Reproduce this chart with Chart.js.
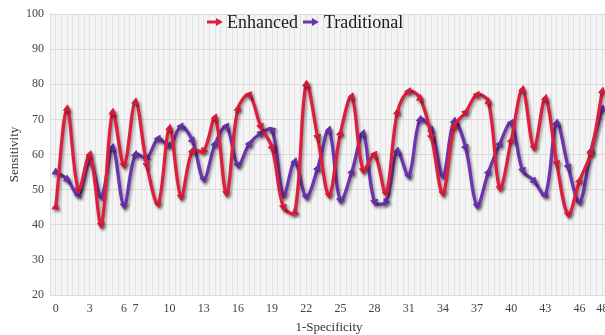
<!DOCTYPE html>
<html><head><meta charset="utf-8">
<script src="https://cdn.jsdelivr.net/npm/chart.js@4/dist/chart.umd.min.js"></script>
<style>
html,body{margin:0;padding:0;overflow:hidden;background:#fff;width:605px;height:335px}
#wrap{position:relative;width:615px;height:335px}
</style>
</head><body>
<div id="wrap"><canvas id="c" width="615" height="335"></canvas></div>
<script>
const xValues = [0,1,2,3,4,5,6,7,8,9,10,11,12,13,14,15,16,17,18,19,20,21,22,23,24,25,26,27,28,29,30,31,32,33,34,35,36,37,38,39,40,41,42,43,44,45,46,47,48];
const enhanced = [45,73,50,60,40,72,57,75,57,46,67.5,48,61,61,70.5,49,73,77,68,62,45,43.5,80,65,48.5,66,76.5,55.5,60,49,72,78,76,65,49,68,72,77,75,50.5,64,78.5,62,76,57.5,43,52.5,60.5,78];
const traditional = [55,53,48.5,58,48,62,45.5,60,59,64.5,62.5,68,64,53,63,68,57,63,66,67,48.5,58,48,56,67,47,55,66,46.5,46.5,61,54,70,67,54,69.5,62,45.5,55,63,69,55.5,52.5,48.5,69,56.5,46.5,61,73];
const xTickLabels = [0,3,6,7,10,13,16,19,22,25,28,31,34,37,40,43,46,48];
const seriesNames = ['Enhanced','Traditional'];
const seriesColors = ['#dc1f3e','#6c34ad'];

const SERIF = '"Liberation Serif","Times New Roman",serif';

function arrowRot(ctx){
  const ch = ctx.chart, xs = ch.scales.x, ys = ch.scales.y;
  const d = ctx.dataset && ctx.dataset.data, i = ctx.dataIndex;
  if(!xs || !ys || !d || i === undefined) return 0;
  const a = i > 0 ? d[i-1] : d[i];
  const b = i > 0 ? d[i] : d[i+1];
  const dx = xs.getPixelForValue(b.x) - xs.getPixelForValue(a.x);
  const dy = ys.getPixelForValue(b.y) - ys.getPixelForValue(a.y);
  return Math.atan2(dy, dx) * 180 / Math.PI + 90;
}

const bgPlugin = {
  id:'bg',
  beforeDraw(chart){
    const {ctx, chartArea:a} = chart;
    ctx.save(); ctx.fillStyle = '#f4f4f4';
    ctx.fillRect(a.left, a.top, a.right - a.left, a.bottom - a.top);
    ctx.restore();
  }
};
const shadowPlugin = {
  id:'shadow',
  beforeDatasetDraw(chart){
    const c = chart.ctx; c.save();
    c.shadowColor = 'rgba(0,0,0,0.4)'; c.shadowBlur = 3;
    c.shadowOffsetX = 1.5; c.shadowOffsetY = 2;
  },
  afterDatasetDraw(chart){ chart.ctx.restore(); }
};
const legendPlugin = {
  id:'customLegend',
  afterDraw(chart){
    const c = chart.ctx; c.save();
    const items = [{x:207, tx:227}, {x:303, tx:324}];
    items.forEach((it, k) => {
      const y = 22;
      c.strokeStyle = seriesColors[k]; c.fillStyle = seriesColors[k]; c.lineWidth = 3;
      c.beginPath(); c.moveTo(it.x, y); c.lineTo(it.x + 11, y); c.stroke();
      c.beginPath(); c.moveTo(it.x + 16, y); c.lineTo(it.x + 9, y - 4); c.lineTo(it.x + 9, y + 4); c.closePath(); c.fill();
      c.fillStyle = '#1a1a1a'; c.font = '18px ' + SERIF; c.textBaseline = 'middle'; c.textAlign = 'left';
      c.fillText(seriesNames[k], it.tx, y + 1);
    });
    c.restore();
  }
};

const gridVals = [];
for (let v = -0.5; v <= 48.5; v += 0.5) gridVals.push(v);

function mk(vals, k){
  return {
    label: seriesNames[k],
    data: xValues.map((x, i) => ({x: x, y: vals[i]})),
    borderColor: seriesColors[k],
    backgroundColor: seriesColors[k],
    borderWidth: 3.3,
    tension: 0.35,
    pointStyle: 'triangle',
    pointRadius: 4,
    pointBorderWidth: 1,
    pointBackgroundColor: seriesColors[k],
    pointBorderColor: seriesColors[k],
    pointRotation: arrowRot
  };
}

new Chart(document.getElementById('c'), {
  type: 'line',
  data: { datasets: [mk(enhanced, 0), mk(traditional, 1)] },
  options: {
    responsive: false,
    animation: false,
    layout: { padding: { top: 14, right: 3, left: 0, bottom: 0 } },
    plugins: { legend: { display: false }, tooltip: { enabled: false } },
    scales: {
      x: {
        type: 'linear', min: -0.5, max: 48.5,
        afterBuildTicks: (ax) => { ax.ticks = gridVals.map(v => ({value: v})); },
        afterFit: (ax) => { ax.height = 40; },
        ticks: {
          autoSkip: false, maxRotation: 0, padding: 7, color: '#444',
          font: { family: SERIF, size: 12 },
          callback: (v) => xTickLabels.includes(v) ? String(v) : ''
        },
        grid: { color: '#e3e3e3', drawTicks: false, lineWidth: 1 },
        border: { color: '#dcdcdc' },
        title: { display: true, text: '1-Specificity', color: '#333', font: { family: SERIF, size: 13 }, padding: { top: 0, bottom: 0 } }
      },
      y: {
        min: 20, max: 100,
        afterFit: (ax) => { ax.width = 50; },
        ticks: { stepSize: 10, padding: 6, color: '#444', font: { family: SERIF, size: 12 } },
        grid: { color: '#dadada', drawTicks: false },
        border: { color: '#e0e0e0' },
        title: { display: true, text: 'Sensitivity', color: '#333', font: { family: SERIF, size: 13 }, padding: { top: 7, bottom: 0 } }
      }
    }
  },
  plugins: [bgPlugin, shadowPlugin, legendPlugin]
});
</script>
</body></html>
